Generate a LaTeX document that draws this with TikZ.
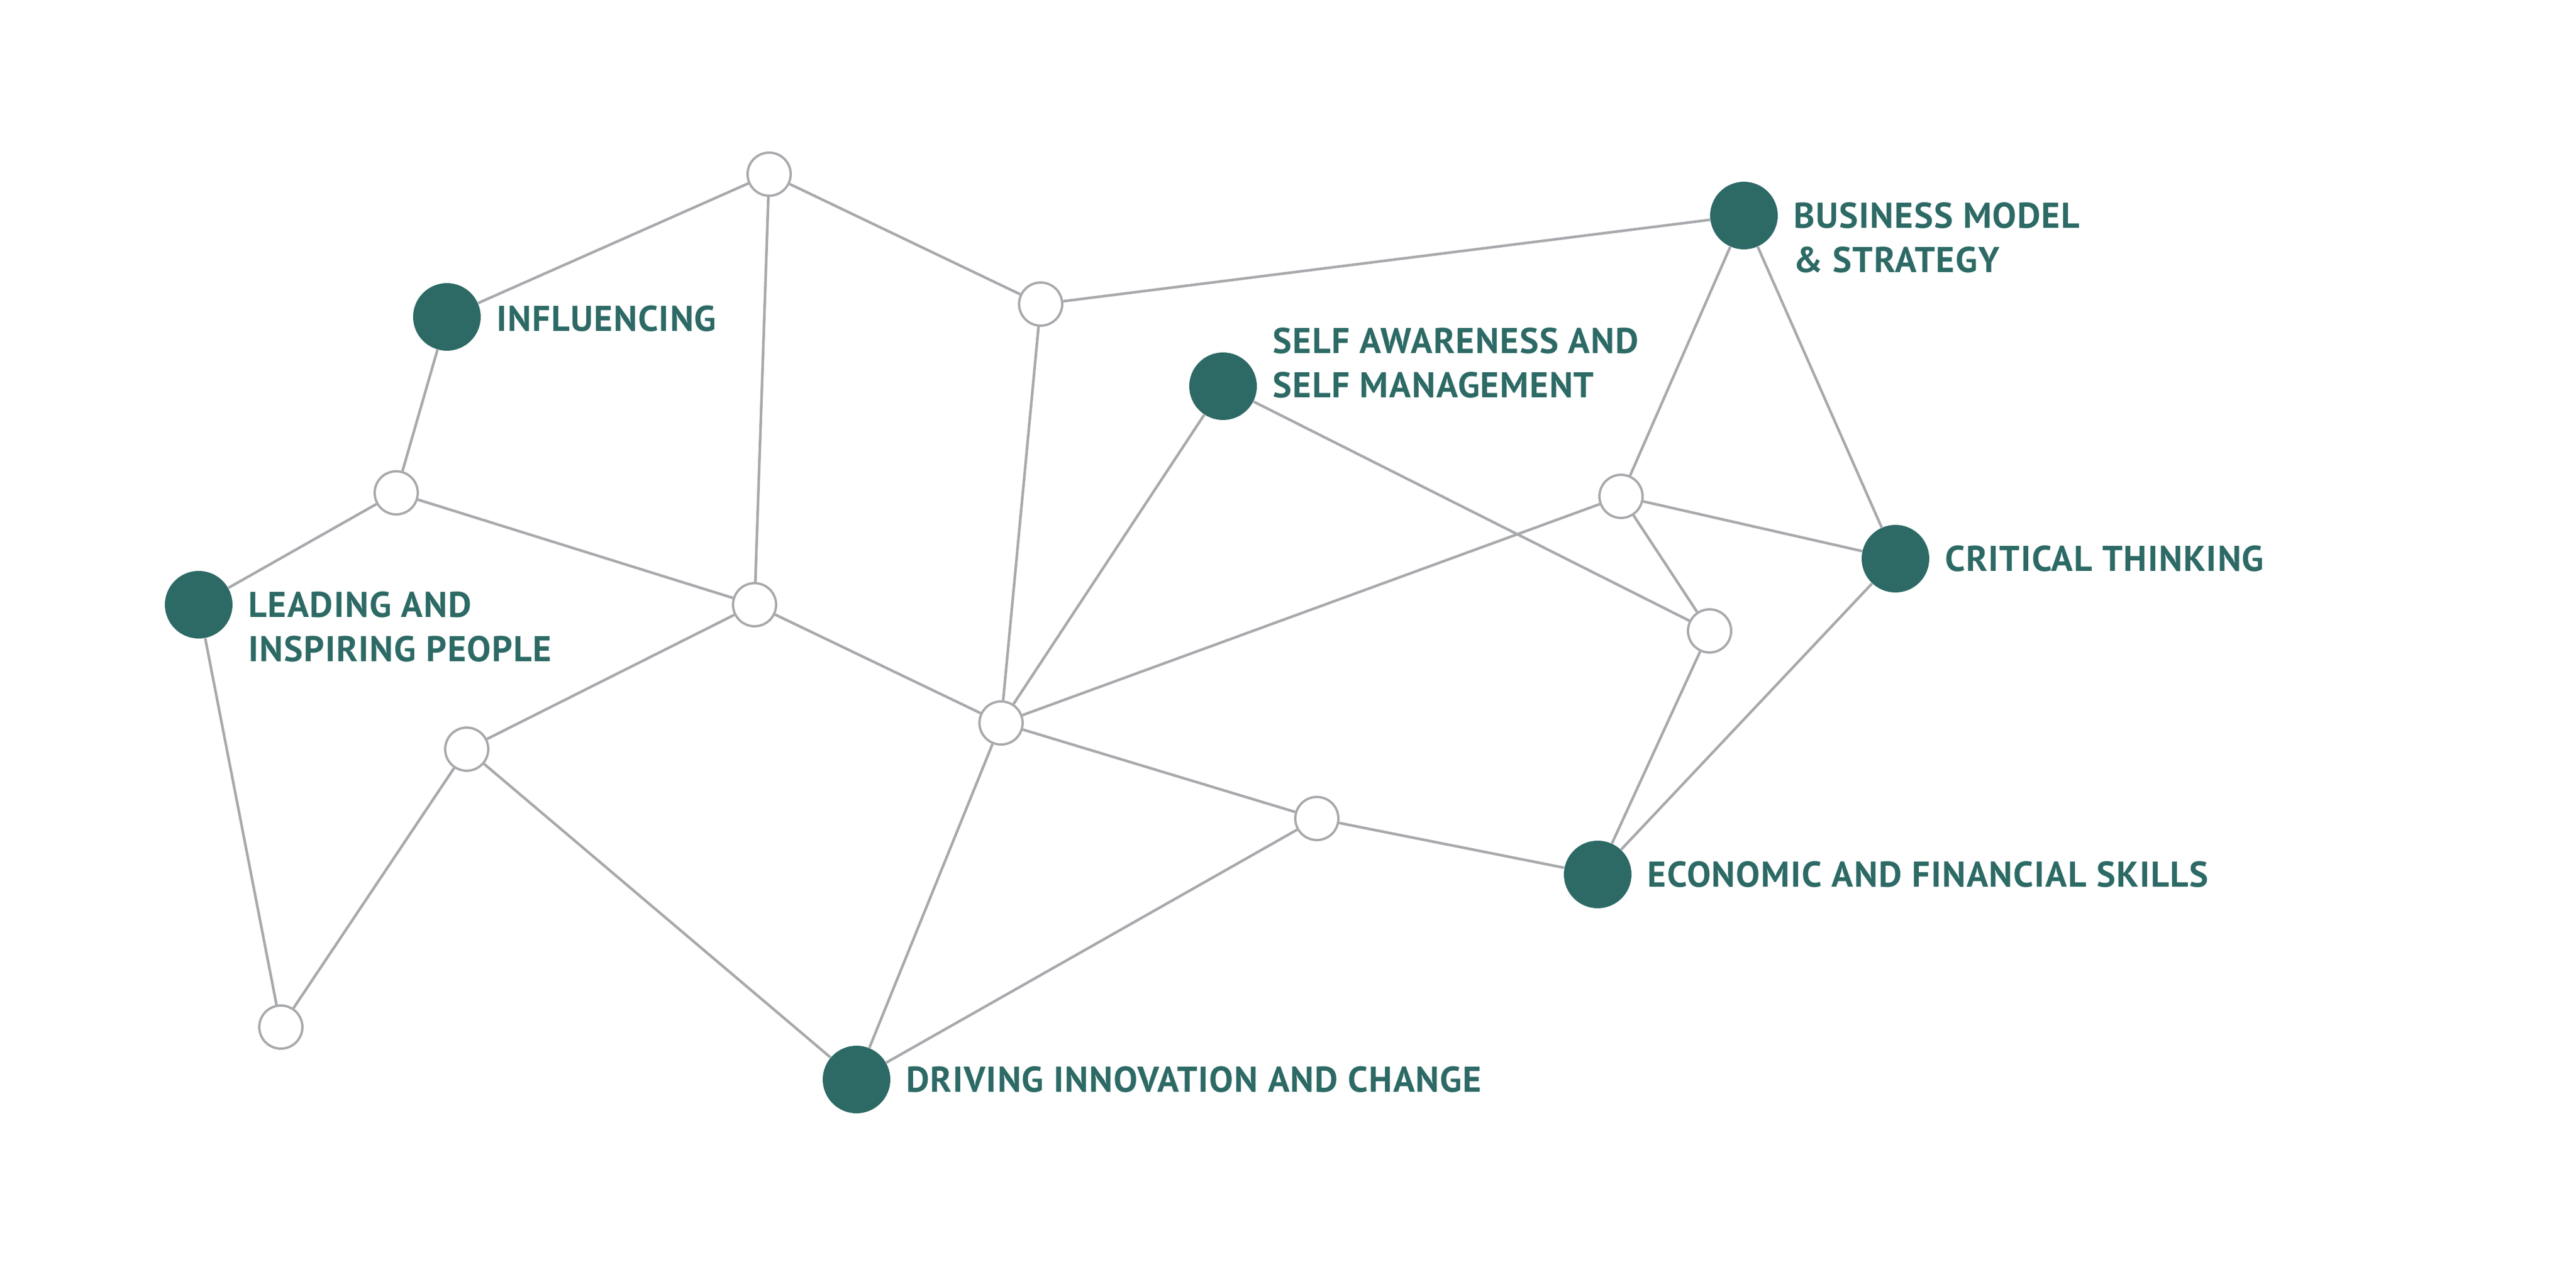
\documentclass[tikz,border=0pt]{standalone}
\usepackage{fontspec}
\setmainfont{PT Sans}
\newfontfamily\lblfont{PT Sans}[LetterSpace=2.5]
\usepackage{tikz}
\usetikzlibrary{positioning}
\definecolor{skteal}{RGB}{45,106,101}
\definecolor{skgrey}{RGB}{167,169,172}

\begin{document}
\begin{tikzpicture}[
		hub/.style={circle, on grid, fill=skteal, inner sep=0, minimum size=1.16cm},
		knot/.style={circle, on grid, draw=skgrey, line width=0.04cm, fill=white, inner sep=0, minimum size=0.74cm},
		wire/.style={draw=skgrey, line width=0.045cm},
		lbl/.style={text=skteal, font=\lblfont\bfseries\fontsize{17.5}{21.6}\selectfont, inner sep=0, align=left}]
		\useasboundingbox (0,0) rectangle (44.21,-21.92);
		
		%centre
		\node[knot] (c) at (17.18,-12.41) {};
		\node[knot, above left = 2.03cm and 4.23cm of c] (e2) {};
		\node[knot, above right = 7.39cm and 0.25cm of e2] (t1) {};
		\node[knot, above right = 7.19cm and 0.68cm of c] (t2) {};
		\node[hub, below left = 2.45cm and 5.53cm of t1] (inf) {};
		\node[knot, below left = 3.02cm and 0.87cm of inf] (e1) {};
		\node[hub, below left = 1.92cm and 3.39cm of e1] (lip) {};
		\node[knot, below left = 2.48cm and 4.94cm of e2] (e3) {};
		\node[knot, below left = 4.77cm and 3.19cm of e3] (e4) {};
		\node[hub, below left = 6.12cm and 2.48cm of c] (dic) {};
		\node[knot, below right = 1.64cm and 5.42cm of c] (e5) {};
		\node[hub, below right = 0.96cm and 4.82cm of e5] (efs) {};
		\node[hub, above right = 5.78cm and 3.81cm of c] (sa) {};
		
		%droite
		\node[knot, above right = 3.89cm and 10.64cm of c] (r1) {};
		\node[knot, below right = 2.31cm and 1.52cm of r1] (r2) {};
		\node[hub, above right = 4.82cm and 2.11cm of r1] (bm) {};
		\node[hub, below right = 1.07cm and 4.71cm of r1] (ct) {};
		
		%liens
		\draw (inf) edge[wire] (t1);
		\draw (t1) edge[wire] (t2);
		\draw (t1) edge[wire] (e2);
		\draw (t2) edge[wire] (bm);
		\draw (t2) edge[wire] (c);
		\draw (inf) edge[wire] (e1);
		\draw (e1) edge[wire] (lip);
		\draw (e1) edge[wire] (e2);
		\draw (e2) edge[wire] (c);
		\draw (e2) edge[wire] (e3);
		\draw (lip) edge[wire] (e4);
		\draw (e4) edge[wire] (e3);
		\draw (e3) edge[wire] (dic);
		\draw (c) edge[wire] (dic);
		\draw (c) edge[wire] (sa);
		\draw (c) edge[wire] (r1);
		\draw (c) edge[wire] (e5);
		\draw (dic) edge[wire] (e5);
		\draw (e5) edge[wire] (efs);
		\draw (sa) edge[wire] (r2);
		\draw (bm) edge[wire] (r1);
		\draw (bm) edge[wire] (ct);
		\draw (r1) edge[wire] (ct);
		\draw (r1) edge[wire] (r2);
		\draw (r2) edge[wire] (efs);
		\draw (ct) edge[wire] (efs);
		
		%textes
		\node[lbl, right = 0.26cm of inf, yshift=-0.03cm] (tinf) {INFLUENCING};
		\node[lbl, right = 0.26cm of lip, yshift=-0.38cm] (tlip) {LEADING AND\\INSPIRING PEOPLE};
		\node[lbl, right = 0.26cm of sa, yshift=0.4cm] (tsa) {SELF AWARENESS AND\\SELF MANAGEMENT};
		\node[lbl, right = 0.26cm of bm, yshift=-0.38cm] (tbm) {BUSINESS MODEL\\\& STRATEGY};
		\node[lbl, right = 0.26cm of ct] (tct) {CRITICAL THINKING};
		\node[lbl, right = 0.26cm of efs] (tefs) {ECONOMIC AND FINANCIAL SKILLS};
		\node[lbl, right = 0.26cm of dic] (tdic) {DRIVING INNOVATION AND CHANGE};
		
	\end{tikzpicture}
\end{document}
